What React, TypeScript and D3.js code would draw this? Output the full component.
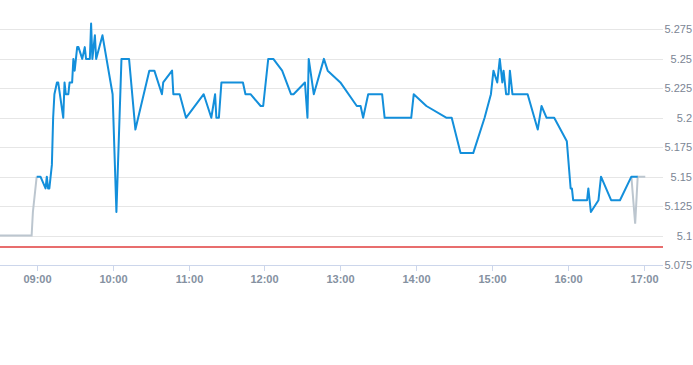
import React from "react";
import * as d3 from "d3";

const width = 693;
const height = 365;
const margin = { left: 0, right: 30, top: 0, bottom: 100 };
const plotRight = 663;
const plotBottom = 265;

// session prices, "HH:MM", value
const sessionTimes = [
  "09:00", "09:03", "09:07", "09:08", "09:09", "09:10", "09:12", "09:13", "09:14", "09:16",
  "09:17", "09:21", "09:22", "09:23", "09:25", "09:26", "09:28", "09:29", "09:30", "09:32",
  "09:33", "09:36", "09:38", "09:39", "09:42", "09:43", "09:44", "09:46", "09:47", "09:52",
  "10:00", "10:03", "10:07", "10:13", "10:18", "10:29", "10:33", "10:39", "10:40", "10:47",
  "10:48", "10:53", "10:58", "11:12", "11:18", "11:21", "11:22", "11:24", "11:26", "11:43",
  "11:45", "11:49", "11:57", "11:59", "12:03", "12:07", "12:14", "12:21", "12:23", "12:32",
  "12:34", "12:35", "12:39", "12:47", "12:50", "13:00", "13:13", "13:16", "13:18", "13:22",
  "13:33", "13:35", "13:56", "13:58", "14:08", "14:24", "14:28", "14:35", "14:45", "14:54",
  "14:59", "15:01", "15:04", "15:06", "15:08", "15:09", "15:11", "15:13", "15:14", "15:16",
  "15:28", "15:36", "15:39", "15:43", "15:49", "15:59", "16:02", "16:03", "16:04", "16:15",
  "16:16", "16:18", "16:24", "16:26", "16:34", "16:41", "16:50", "16:55",
];
const sessionValues = [
  5.15, 5.15, 5.14, 5.15, 5.14, 5.14, 5.16, 5.2, 5.22, 5.23,
  5.23, 5.2, 5.23, 5.22, 5.22, 5.23, 5.23, 5.25, 5.24, 5.26,
  5.26, 5.25, 5.26, 5.25, 5.25, 5.28, 5.25, 5.27, 5.25, 5.27,
  5.22, 5.12, 5.25, 5.25, 5.19, 5.24, 5.24, 5.22, 5.23, 5.24,
  5.22, 5.22, 5.2, 5.22, 5.2, 5.22, 5.2, 5.2, 5.23, 5.23,
  5.22, 5.22, 5.21, 5.21, 5.25, 5.25, 5.24, 5.22, 5.22, 5.23,
  5.2, 5.25, 5.22, 5.25, 5.24, 5.23, 5.21, 5.21, 5.2, 5.22,
  5.22, 5.2, 5.2, 5.22, 5.21, 5.2, 5.2, 5.17, 5.17, 5.2,
  5.22, 5.24, 5.23, 5.25, 5.23, 5.24, 5.22, 5.22, 5.24, 5.22,
  5.22, 5.19, 5.21, 5.2, 5.2, 5.18, 5.14, 5.14, 5.13, 5.13,
  5.14, 5.12, 5.13, 5.15, 5.13, 5.13, 5.15, 5.15,
];

// pre / post session (grey)
const preTimes = ["08:31", "08:56", "08:57", "09:00"];
const preValues = [5.1, 5.1, 5.12, 5.15];
const postTimes = ["16:50", "16:53", "16:55", "17:01"];
const postValues = [5.15, 5.11, 5.15, 5.15];

const prevClose = 5.09;
const yTicks = [5.075, 5.1, 5.125, 5.15, 5.175, 5.2, 5.225, 5.25, 5.275];
const xTickLabels = ["09:00", "10:00", "11:00", "12:00", "13:00", "14:00", "15:00", "16:00", "17:00"];

const toMin = (t: string) => {
  const [h, m] = t.split(":").map(Number);
  return h * 60 + m;
};

const zip = (ts: string[], vs: number[]) => ts.map((t, i) => ({ t: toMin(t), v: vs[i] }));

export default function App() {
  const x = d3.scaleLinear().domain([toMin("08:31"), toMin("17:15")]).range([margin.left, plotRight]);
  const y = d3.scaleLinear().domain([5.075, 5.3]).range([plotBottom, margin.top]);

  const line = d3
    .line<{ t: number; v: number }>()
    .x((d) => x(d.t))
    .y((d) => y(d.v));

  const fmt = (v: number) => String(+v.toFixed(3));
  const font = "'Liberation Sans', Arial, sans-serif";

  return (
    <div style={{ position: "absolute", left: 0, top: 0 }}>
      <svg width={width} height={height} style={{ display: "block" }}>
        <rect width={width} height={height} fill="#fff" />
        {yTicks.slice(1).map((t) => (
          <line key={t} x1={0} x2={plotRight} y1={Math.round(y(t)) + 0.5} y2={Math.round(y(t)) + 0.5} stroke="#e6e6e6" />
        ))}
        <line x1={0} x2={plotRight} y1={plotBottom + 0.5} y2={plotBottom + 0.5} stroke="#ccd6eb" />
        {xTickLabels.map((l) => {
          const xp = Math.round(x(toMin(l))) + 0.5;
          return (
            <g key={l}>
              <line x1={xp} x2={xp} y1={plotBottom} y2={plotBottom + 6} stroke="#ccd6eb" />
              <text x={xp} y={plotBottom + 18} textAnchor="middle" fontFamily={font} fontSize={11} fontWeight="bold" fill="#8591a1">
                {l}
              </text>
            </g>
          );
        })}
        {yTicks.map((t) => (
          <text key={t} x={692} y={y(t) + 4} textAnchor="end" fontFamily={font} fontSize={11} fill="#7b8594">
            {fmt(t)}
          </text>
        ))}
        <line x1={0} x2={plotRight} y1={Math.round(y(prevClose))} y2={Math.round(y(prevClose))} stroke="#e03c3c" strokeWidth={1.3} />
        <path d={line(zip(preTimes, preValues)) || ""} fill="none" stroke="#bcc6cf" strokeWidth={2} />
        <path d={line(zip(postTimes, postValues)) || ""} fill="none" stroke="#bcc6cf" strokeWidth={2} />
        <path d={line(zip(sessionTimes, sessionValues)) || ""} fill="none" stroke="#138fdb" strokeWidth={2} strokeLinejoin="round" />
      </svg>
    </div>
  );
}
